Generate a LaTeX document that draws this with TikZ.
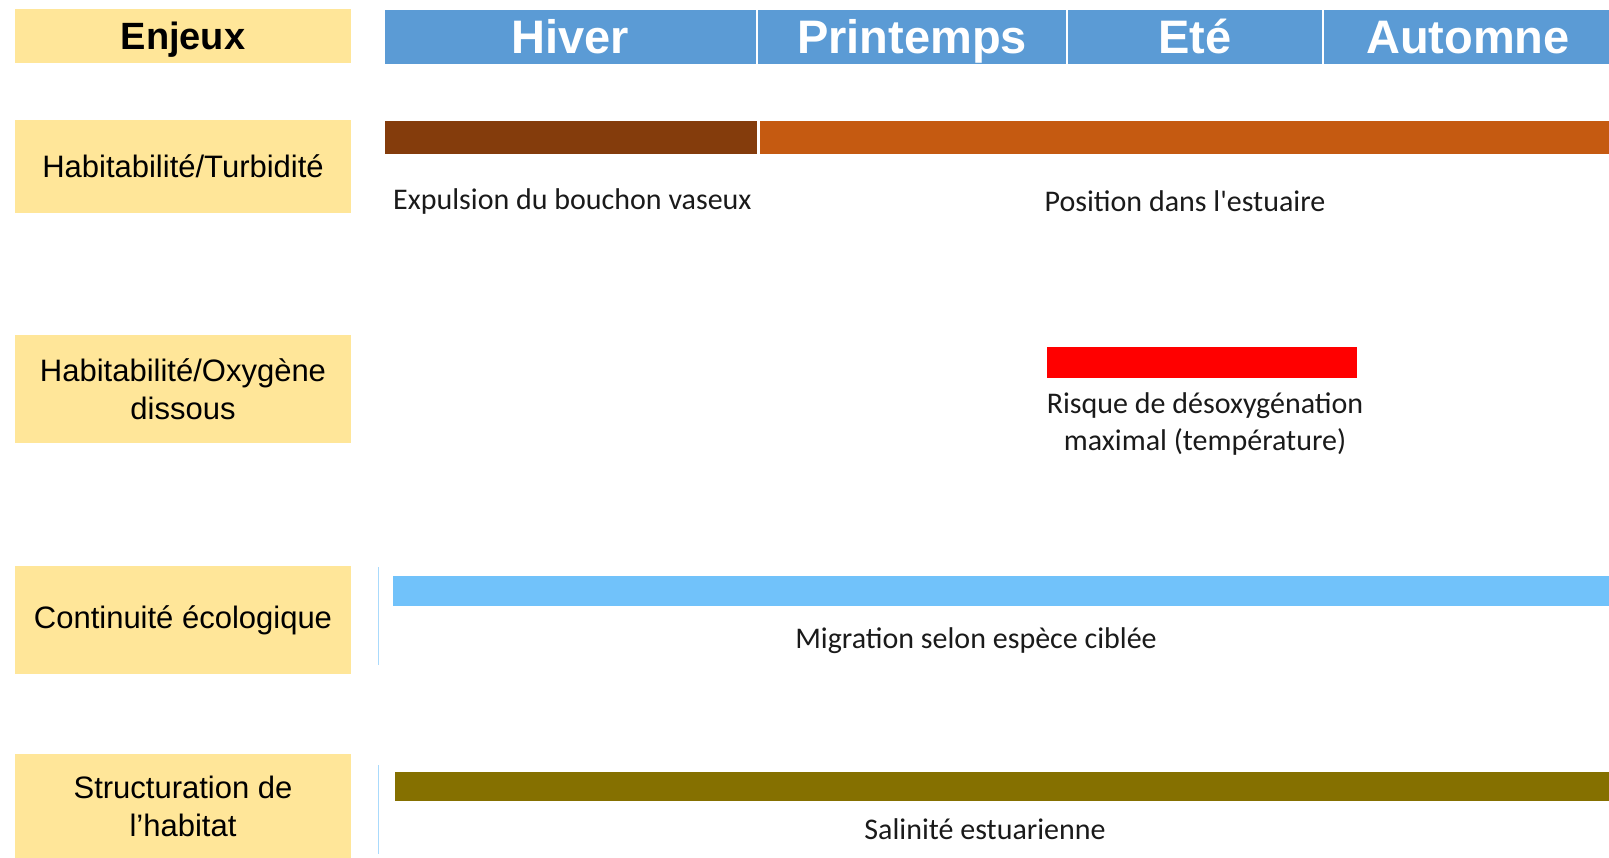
\documentclass[tikz,border=0pt]{standalone}
\usepackage{fontspec}
\setmainfont{Liberation Sans}
\newfontfamily\calib{Carlito}
\definecolor{hdrblue}{HTML}{5B9BD5}
\definecolor{gold}{HTML}{FFE699}
\definecolor{brownbar}{HTML}{843C0C}
\definecolor{orangebar}{HTML}{C55A11}
\definecolor{redbar}{HTML}{FF0000}
\definecolor{skybar}{HTML}{71C2FA}
\definecolor{olivebar}{HTML}{857000}
\definecolor{txt}{HTML}{1A1A1A}
\tikzset{
  labelbox/.style={fill=gold, inner sep=0pt, minimum width=336pt, align=center,
    font=\fontsize{31}{38}\selectfont},
  hdrcell/.style={fill=hdrblue, draw=white, line width=1.5pt, inner sep=0pt,
    minimum height=56pt, text=white, text height=33.7pt, text depth=0pt,
    font=\fontsize{47}{50}\selectfont\bfseries},
  bar/.style={inner sep=0pt, draw=none},
  note/.style={inner sep=0pt, align=center, text=txt, font=\calib\fontsize{30}{37}\selectfont},
  faint/.style={draw=skybar!60, line width=0.8pt}
}
\begin{document}
\begin{tikzpicture}[x=1pt,y=-1pt]
\useasboundingbox (0,0) rectangle (1609,857);
% header
\node[labelbox, minimum height=54pt, text height=27.2pt, text depth=0pt,
      font=\fontsize{38}{40}\selectfont\bfseries] (enj) at (183,36) {Enjeux};
\node[hdrcell, minimum width=373pt] (hiver) at (570.5,37) {Hiver};
\node[hdrcell, minimum width=310pt] (print) at (912,37) {Printemps};
\node[hdrcell, minimum width=256pt] (ete) at (1195,37) {Eté};
\node[hdrcell, minimum width=290pt] (aut) at (1468,37) {Automne};
% row 1
\node[labelbox, minimum height=93pt] (r1) at (183,166.5) {Habitabilité/Turbidité};
\node[bar, fill=brownbar, minimum width=372pt, minimum height=33pt] (b1a) at (571,137.5) {};
\node[bar, fill=orangebar, minimum width=849pt, minimum height=33pt] (b1b) at (1184.5,137.5) {};
\node[note, anchor=west] (t1a) at (393,201) {Expulsion du bouchon vaseux};
\node[note] (t1b) at (1185,201) {Position dans l'estuaire};
% row 2
\node[labelbox, minimum height=108pt] (r2) at (183,389) {Habitabilité/Oxygène\\dissous};
\node[bar, fill=redbar, minimum width=310pt, minimum height=31pt] (b2) at (1202,362.5) {};
\node[note] (t2) at (1205,424) {Risque de désoxygénation\\maximal (température)};
% row 3
\node[labelbox, minimum height=108pt] (r3) at (183,620) {Continuité écologique};
\coordinate (l3a) at (378,567);
\coordinate (l3b) at (378,665);
\draw[faint] (l3a) -- (l3b);
\node[bar, fill=skybar, minimum width=1216pt, minimum height=30pt] (b3) at (1001,591) {};
\node[note] (t3) at (976,641) {Migration selon espèce ciblée};
% row 4
\node[labelbox, minimum height=104pt] (r4) at (183,806) {Structuration de\\l’habitat};
\coordinate (l4a) at (378,765);
\coordinate (l4b) at (378,854);
\draw[faint] (l4a) -- (l4b);
\node[bar, fill=olivebar, minimum width=1214pt, minimum height=29pt] (b4) at (1002,786.5) {};
\node[note] (t4) at (985,829) {Salinité estuarienne};
\end{tikzpicture}
\end{document}
